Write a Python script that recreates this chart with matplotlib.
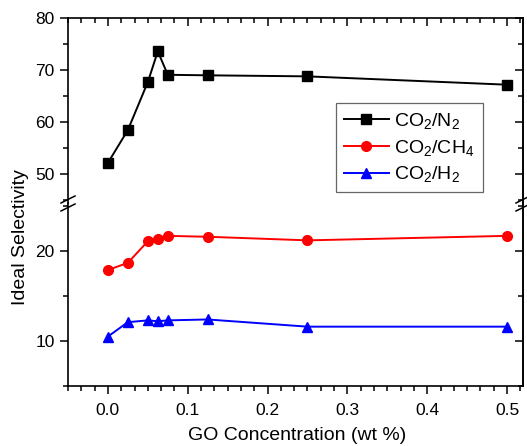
import numpy as np
import matplotlib
matplotlib.use("Agg")
import matplotlib.pyplot as plt
from matplotlib.ticker import MultipleLocator

plt.rcParams['font.family'] = ['Liberation Sans', 'DejaVu Sans']
plt.rcParams['mathtext.fontset'] = 'custom'
plt.rcParams['mathtext.rm'] = 'Liberation Sans'
plt.rcParams['mathtext.default'] = 'regular'

# data
go_conc = [0.0, 0.025, 0.05, 0.0625, 0.075, 0.125, 0.25, 0.5]
sel_n2 = [52.2, 58.5, 67.7, 73.6, 69.1, 69.0, 68.8, 67.2]
sel_ch4 = [17.9, 18.7, 21.1, 21.4, 21.7, 21.6, 21.2, 21.7]
sel_h2 = [10.5, 12.1, 12.3, 12.2, 12.3, 12.4, 11.6, 11.6]
labels = [r'CO$_2$/N$_2$', r'CO$_2$/CH$_4$', r'CO$_2$/H$_2$']

W, H = 527, 446
fig = plt.figure(figsize=(W / 100, H / 100), dpi=100)

x0, x1 = 68 / W, 523 / W
ytop, ybrk, ybot = 18, 203.5, 386
ax_up = fig.add_axes([x0, 1 - ybrk / H, x1 - x0, (ybrk - ytop) / H])
ax_lo = fig.add_axes([x0, 1 - ybot / H, x1 - x0, (ybot - ybrk) / H])

kw = dict(lw=1.4, ms=7)
l1, = ax_up.plot(go_conc, sel_n2, '-s', color='black', **kw)
l2, = ax_lo.plot(go_conc, sel_ch4, '-o', color='#ff0000', **kw)
l3, = ax_lo.plot(go_conc, sel_h2, '-^', color='#0000ff', **kw)

for ax in (ax_up, ax_lo):
    ax.set_xlim(-0.05, 0.52)
    ax.xaxis.set_major_locator(MultipleLocator(0.1))
    ax.xaxis.set_minor_locator(MultipleLocator(0.1 / 6))
    for s in ax.spines.values():
        s.set_linewidth(1.2)
    ax.tick_params(which='both', width=1.1, labelsize=12.5)
    ax.tick_params(which='major', length=6)
    ax.tick_params(which='minor', length=3.5)
    ax.tick_params(axis='y', direction='out', right=False)

ax_up.set_ylim(44.4, 80)
ax_up.yaxis.set_major_locator(MultipleLocator(10))
ax_up.yaxis.set_minor_locator(MultipleLocator(5))
ax_up.spines['bottom'].set_visible(False)
ax_up.tick_params(axis='x', which='both', direction='in', bottom=False,
                  top=True, labelbottom=False)

ax_lo.set_ylim(5, 25.3)
ax_lo.yaxis.set_major_locator(MultipleLocator(10))
ax_lo.yaxis.set_minor_locator(MultipleLocator(5))
ax_lo.spines['top'].set_visible(False)
ax_lo.tick_params(axis='x', which='both', direction='out', top=False)
ax_lo.set_xticks([0.0, 0.1, 0.2, 0.3, 0.4, 0.5])
ax_lo.set_xticklabels(['0.0', '0.1', '0.2', '0.3', '0.4', '0.5'])
ax_lo.tick_params(axis='x', pad=6)

# right-side mirrored ticks pointing inward
for ax in (ax_up, ax_lo):
    sec = ax.secondary_yaxis('right')
    sec.yaxis.set_major_locator(MultipleLocator(10))
    sec.yaxis.set_minor_locator(MultipleLocator(5))
    sec.tick_params(which='both', direction='in', labelright=False, width=1.1)
    sec.tick_params(which='major', length=6)
    sec.tick_params(which='minor', length=3.5)
    sec.spines['right'].set_linewidth(1.2)

# axis break marks
for xb in (x0, x1):
    for dy in (-4, 4):
        yc = 1 - (ybrk + dy) / H
        fig.add_artist(plt.Line2D([xb - 7 / W, xb + 7 / W],
                                  [yc - 3.5 / H, yc + 3.5 / H],
                                  color='black', lw=1.1))

fig.text(21 / W, 1 - 237 / H, 'Ideal Selectivity', rotation=90,
         ha='center', va='center', fontsize=14)
fig.text(297 / W, 1 - 436 / H, 'GO Concentration (wt %)',
         ha='center', va='center', fontsize=14)

leg = fig.legend([l1, l2, l3], labels, loc='upper left',
                 bbox_to_anchor=(336 / W, 1 - 103 / H),
                 fontsize=14, frameon=True, fancybox=False,
                 edgecolor='#666666', framealpha=1,
                 handlelength=2.3, handletextpad=0.3, labelspacing=0.35,
                 borderpad=0.4, borderaxespad=0)
leg.get_frame().set_linewidth(0.9)

fig.savefig('out.png', dpi=100)
